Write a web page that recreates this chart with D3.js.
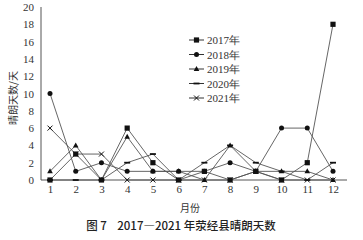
<!DOCTYPE html>
<html lang="zh">
<head>
<meta charset="UTF-8">
<title>荥经县晴朗天数</title>
<style>
    body { margin: 0; background: #fff; }
    svg { display: block; }
</style>
</head>
<body>
<script src="https://cdn.jsdelivr.net/npm/d3@7/dist/d3.min.js"></script>
<script>
    const W = 363
    const H = 240

    const months = [1, 2, 3, 4, 5, 6, 7, 8, 9, 10, 11, 12]
    const yTicks = [0, 2, 4, 6, 8, 10, 12, 14, 16, 18, 20]
    const years = ['2017年', '2018年', '2019年', '2020年', '2021年']

    const v2017 = [0, 3, 0, 6, 2, 0, 1, 0, 1, 0, 2, 18]
    const v2018 = [10, 1, 2, 1, 1, 1, 1, 2, 1, 6, 6, 1]
    const v2019 = [1, 4, 0, 5, 1, 1, 0, 4, 1, 1, 1, 0]
    const v2020 = [0, 0, 0, 2, 3, 0, 2, 4, 2, 1, 0, 2]
    const v2021 = [6, 3, 3, 0, 0, 0, 0, 0, 1, 0, 0, 0]

    const seriesVals = [v2017, v2018, v2019, v2020, v2021]
    const symbols = ['square', 'circle', 'triangle', 'dash', 'cross']

    const serif = '"Liberation Serif", "DejaVu Serif", serif'
    const cjk = '"Noto Sans CJK SC", sans-serif'

    const m = { left: 41, right: 347, top: 7, bottom: 180 }

    const x = d3.scaleLinear().domain([1, 12]).range([50, 333])
    const y = d3.scaleLinear().domain([0, 20]).range([m.bottom, m.top])

    const svg = d3.select('body').append('svg')
        .attr('width', W)
        .attr('height', H)

    // axes
    const yAxis = d3.axisLeft(y).tickValues(yTicks).tickSize(0).tickPadding(7)
    const xAxis = d3.axisBottom(x).tickValues(months).tickSize(0).tickPadding(5)

    const gy = svg.append('g')
        .attr('transform', `translate(${m.left},0)`)
        .call(yAxis)
    gy.select('.domain').attr('stroke', '#555').attr('d', `M0,${m.top}V${m.bottom}`)

    const gx = svg.append('g')
        .attr('transform', `translate(0,${m.bottom})`)
        .call(xAxis)
    gx.select('.domain').attr('stroke', '#555').attr('d', `M${m.left},0H${m.right}`)

    svg.selectAll('.tick text')
        .attr('font-family', serif)
        .attr('font-size', 11)
        .attr('fill', '#333')

    // lines
    const line = d3.line()
        .x((d, i) => x(months[i]))
        .y(d => y(d))

    seriesVals.forEach(vals => {
        svg.append('path')
            .datum(vals)
            .attr('fill', 'none')
            .attr('stroke', '#555')
            .attr('stroke-width', 0.9)
            .attr('d', line)
    })

    function drawMarker(g, type, cx, cy) {
        if (type === 'square') {
            g.append('rect').attr('x', cx - 2.6).attr('y', cy - 2.6)
                .attr('width', 5.2).attr('height', 5.2).attr('fill', '#111')
        } else if (type === 'circle') {
            g.append('circle').attr('cx', cx).attr('cy', cy).attr('r', 2.5).attr('fill', '#111')
        } else if (type === 'triangle') {
            g.append('path')
                .attr('d', `M${cx},${cy - 3}L${cx + 2.8},${cy + 2}L${cx - 2.8},${cy + 2}Z`)
                .attr('fill', '#111')
        } else if (type === 'dash') {
            g.append('rect').attr('x', cx - 3).attr('y', cy - 0.9)
                .attr('width', 6).attr('height', 1.8).attr('fill', '#111')
        } else {
            g.append('path')
                .attr('d', `M${cx - 2.5},${cy - 2.5}L${cx + 2.5},${cy + 2.5}M${cx + 2.5},${cy - 2.5}L${cx - 2.5},${cy + 2.5}`)
                .attr('stroke', '#111').attr('stroke-width', 1)
        }
    }

    seriesVals.forEach((vals, s) => {
        const g = svg.append('g')
        vals.forEach((v, i) => drawMarker(g, symbols[s], x(months[i]), y(v)))
    })

    // legend
    const legend = svg.append('g').attr('transform', 'translate(189,40)')
    years.forEach((name, i) => {
        const g = legend.append('g').attr('transform', `translate(0,${i * 14.5})`)
        g.append('line').attr('x1', 0).attr('x2', 15).attr('y1', 0).attr('y2', 0)
            .attr('stroke', '#333').attr('stroke-width', 1)
        drawMarker(g, symbols[i], 7.5, 0)
        g.append('text').attr('x', 18).attr('y', 4)
            .attr('font-family', serif).attr('font-size', 11).attr('fill', '#333')
            .text(name)
    })

    // axis titles
    svg.append('text')
        .attr('x', 190).attr('y', 212)
        .attr('text-anchor', 'middle')
        .attr('font-family', cjk).attr('font-size', 10).attr('fill', '#333')
        .text('月份')

    svg.append('text')
        .attr('transform', 'translate(17,98) rotate(-90)')
        .attr('text-anchor', 'middle')
        .attr('font-family', cjk).attr('font-size', 10).attr('fill', '#333')
        .text('晴朗天数/天')

    // caption
    svg.append('text')
        .attr('x', 181).attr('y', 230)
        .attr('text-anchor', 'middle')
        .attr('font-family', cjk).attr('font-size', 11.5).attr('font-weight', 500)
        .attr('fill', '#222')
        .style('white-space', 'pre')
        .text('图 7    2017—2021 年荥经县晴朗天数')
</script>
</body>
</html>
